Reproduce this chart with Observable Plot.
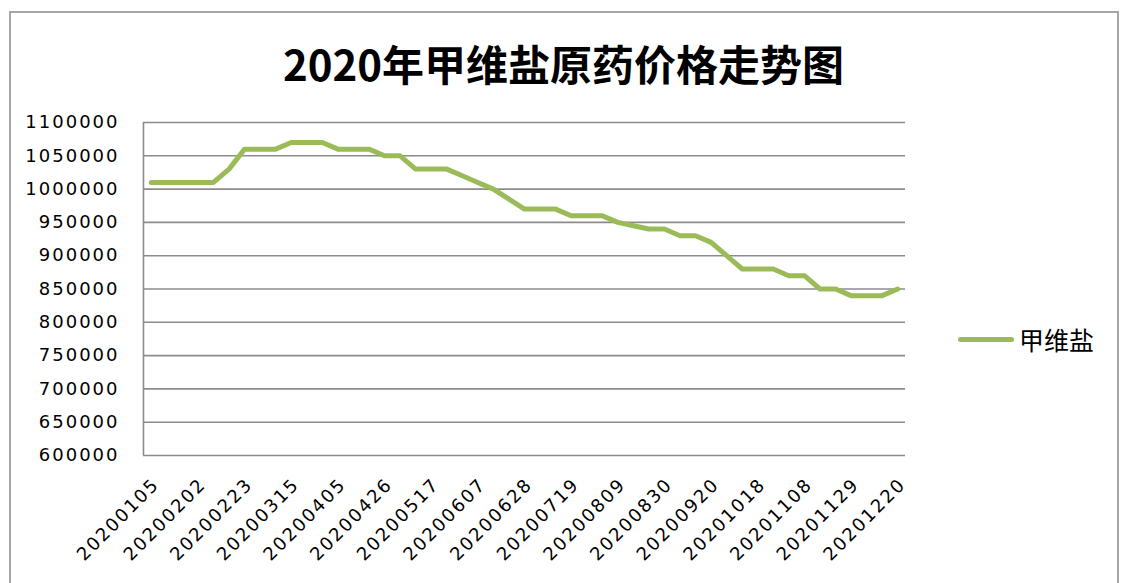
<!DOCTYPE html>
<html>
<head>
<meta charset="utf-8">
<script src="https://cdn.jsdelivr.net/npm/d3@7"></script>
<script src="https://cdn.jsdelivr.net/npm/@observablehq/plot@0.6"></script>
<style>
  html, body { margin: 0; padding: 0; background: #fff; overflow: hidden; }
  #wrap { position: relative; width: 1127px; height: 583px; overflow: hidden; }
  #border { position: absolute; left: 9px; top: 11px; width: 1106px; height: 700px; border: 2px solid #a6a6a6; pointer-events: none; }
  #title { position: absolute; left: 283px; top: 38px; height: 50px; white-space: nowrap; font-family: "Noto Sans CJK SC", sans-serif; font-weight: 700; font-size: 42px; line-height: 50px; color: #000; }
  #chart { position: absolute; left: 0; top: 100px; }
  #legend-line { position: absolute; left: 958px; top: 337px; width: 56px; height: 5px; border-radius: 3px; background: #9bbb59; }
  #legend-text { position: absolute; left: 1019px; top: 324px; font-family: "Noto Sans CJK SC", sans-serif; font-size: 25px; line-height: 30px; color: #000; }
</style>
</head>
<body>
<div id="wrap">
  <div id="title">2020年甲维盐原药价格走势图</div>
  <div id="chart"></div>
  <div id="legend-line"></div>
  <div id="legend-text">甲维盐</div>
  <div id="border"></div>
</div>
<script>
const seriesName = "甲维盐";
const dates = [
  "20200105","20200112","20200119","20200202","20200209","20200216","20200223",
  "20200301","20200308","20200315","20200322","20200329","20200405","20200412",
  "20200419","20200426","20200503","20200510","20200517","20200524","20200531",
  "20200607","20200614","20200621","20200628","20200705","20200712","20200719",
  "20200726","20200802","20200809","20200816","20200823","20200830","20200906",
  "20200913","20200920","20200927","20201011","20201018","20201025","20201101",
  "20201108","20201115","20201122","20201129","20201206","20201213","20201220"
];
const prices = [
  1010000,1010000,1010000,1010000,1010000,1030000,1060000,
  1060000,1060000,1070000,1070000,1070000,1060000,1060000,
  1060000,1050000,1050000,1030000,1030000,1030000,1020000,
  1010000,1000000,985000,970000,970000,970000,960000,
  960000,960000,950000,945000,940000,940000,930000,
  930000,920000,900000,880000,880000,880000,870000,
  870000,850000,850000,840000,840000,840000,850000
];
const yTicks = [600000,650000,700000,750000,800000,850000,900000,950000,1000000,1050000,1100000];
const xTickLabels = dates.filter((d, i) => i % 3 === 0);

const data = dates.map((d, i) => ({date: d, price: prices[i], series: seriesName}));

const chart = Plot.plot({
  width: 1127,
  height: 483,
  marginLeft: 143,
  marginRight: 222,
  marginTop: 22,
  marginBottom: 128,
  style: {fontFamily: "DejaVu Sans, sans-serif", fontSize: "18px", letterSpacing: "2px", color: "#000", background: "transparent"},
  x: {type: "point", domain: dates, padding: 0.5, round: false},
  y: {domain: [600000, 1100000]},
  marks: [
    Plot.ruleY(yTicks, {stroke: "#8c8c8c", strokeWidth: 1.6}),
    Plot.ruleX([dates[0]], {y1: 600000, y2: 1100000, dx: -7.8, stroke: "#8c8c8c", strokeWidth: 1.6}),
    Plot.axisY({ticks: yTicks, tickSize: 0, tickPadding: 24, tickFormat: d => String(d), label: null, fill: "#000"}),
    Plot.axisX({ticks: xTickLabels, tickSize: 0, tickPadding: 26, dx: 5, tickRotate: -45, label: null, fill: "#000", style: {letterSpacing: "2.3px"}}),
    Plot.line(data, {x: "date", y: "price", stroke: "#9bbb59", strokeWidth: 5, strokeLinejoin: "round", strokeLinecap: "round"})
  ]
});
document.getElementById("chart").appendChild(chart);
</script>
</body>
</html>
